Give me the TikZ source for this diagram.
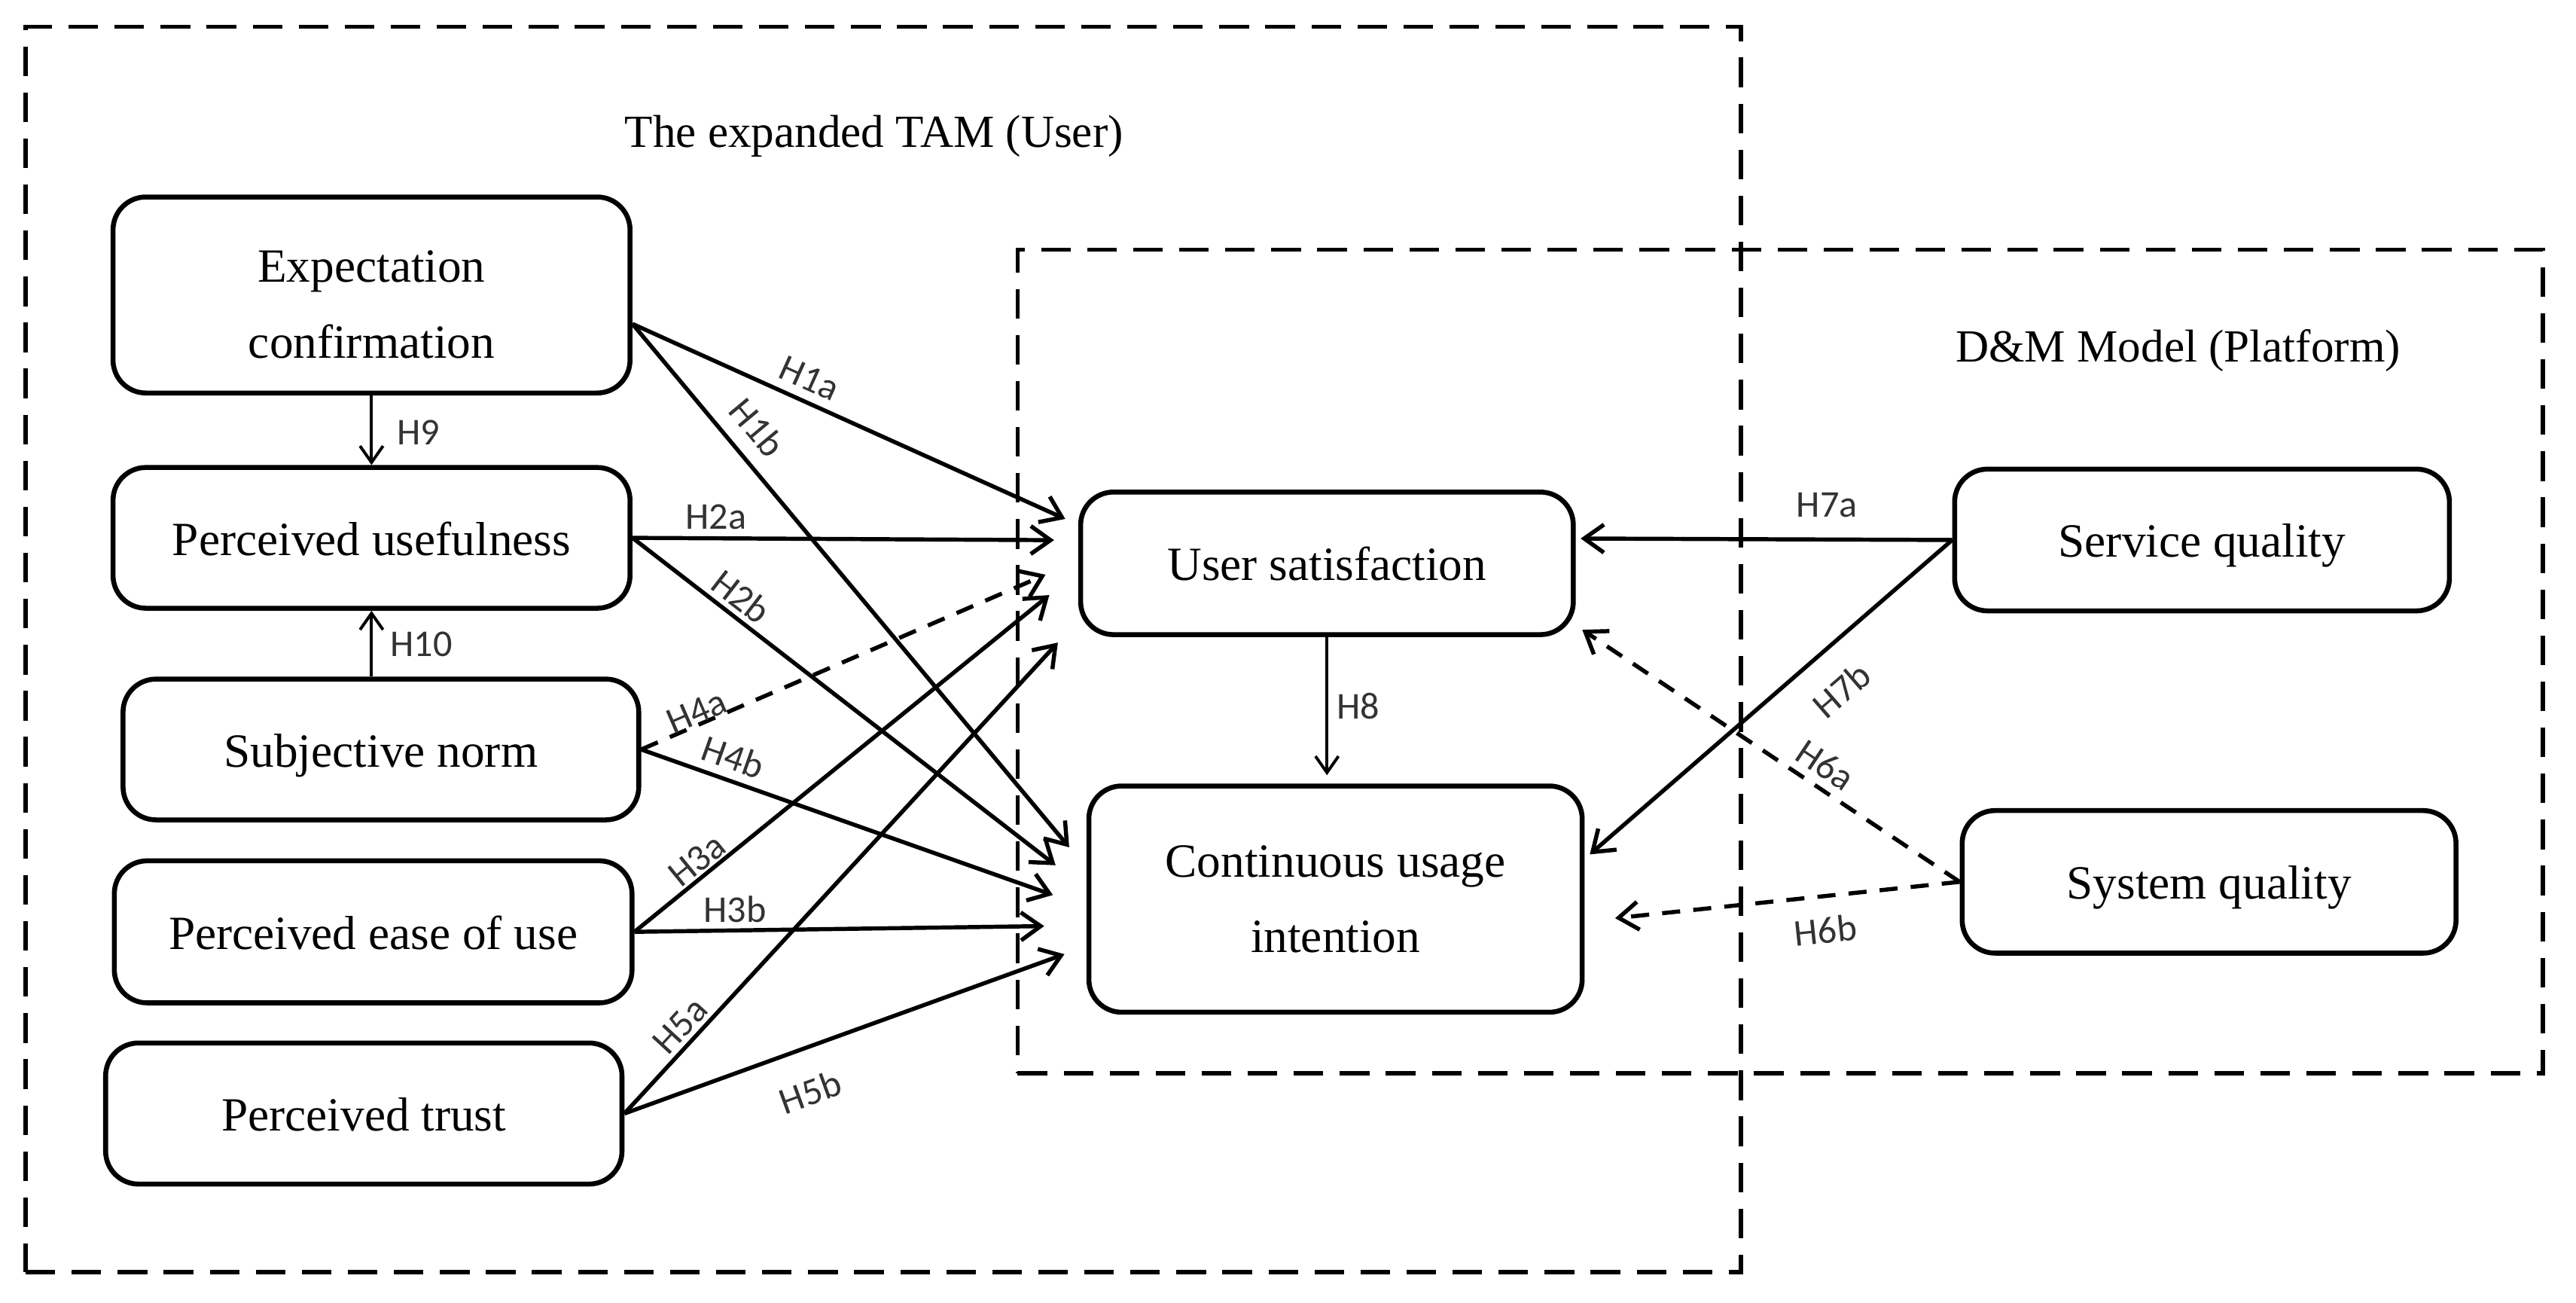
\documentclass[tikz,border=0pt]{standalone}
\usepackage{fontspec}
\setmainfont{Liberation Serif}
\newfontfamily\lblfont{Carlito}
\usetikzlibrary{arrows.meta,calc}
\definecolor{lblgray}{HTML}{333333}
\begin{document}
\begin{tikzpicture}[x=1pt,y=-1pt,
  box/.style={draw, line width=3pt, rounded corners=20pt, align=center,
    font=\fontsize{29}{46}\selectfont, inner sep=0pt},
  one/.style={text height=21pt, text depth=0pt},
  grp/.style={draw, line width=2.4pt, dash pattern=on 18pt off 10pt, inner sep=0pt},
  conn/.style={line width=2.5pt, -{Straight Barb[length=12pt,width=17pt]}},
  thinconn/.style={line width=1.8pt, -{Straight Barb[length=10pt,width=14pt]}},
  dconn/.style={conn, dash pattern=on 11pt off 8pt},
  lbl/.style={font=\lblfont\fontsize{23}{23}\selectfont, text=lblgray, inner sep=0pt},
  ttl/.style={font=\fontsize{28}{30}\selectfont, anchor=base}
]
\useasboundingbox (0,0) rectangle (1567,792.4);

% group frames
\node[grp, minimum width=1043.4pt, minimum height=757.3pt] (tam) at (537.3,394.95) {};
\node[grp, minimum width=927.8pt, minimum height=500.7pt] (dm) at (1082.9,402.35) {};
\node[ttl] (tamt) at (531.7,89.5) {The expanded TAM (User)};
\node[ttl] (dmt) at (1325,220) {D\&M Model (Platform)};

% constructs
\node[box, minimum width=314.5pt, minimum height=119.2pt] (ec) at (226,179.4) {\rule{0pt}{31pt}Expectation\\confirmation};
\node[box, one, minimum width=314.5pt, minimum height=85.6pt] (pu) at (226,327.1) {Perceived usefulness};
\node[box, one, minimum width=313.7pt, minimum height=85.6pt] (sn) at (231.7,455.8) {Subjective norm};
\node[box, one, minimum width=314.9pt, minimum height=86.4pt] (pe) at (227,566.7) {Perceived ease of use};
\node[box, one, minimum width=314.1pt, minimum height=85.8pt] (pt) at (221.3,677.2) {Perceived trust};
\node[box, one, minimum width=299.7pt, minimum height=86.7pt] (us) at (807.2,342.6) {User satisfaction};
\node[box, minimum width=300.1pt, minimum height=137.6pt] (cu) at (812.4,546.8) {Continuous usage\\intention};
\node[box, one, minimum width=301pt, minimum height=86.2pt] (sq) at (1339.5,328.4) {Service quality};
\node[box, one, minimum width=300.4pt, minimum height=86.7pt] (sy) at (1343.8,536.3) {System quality};

% arrow end points
\coordinate (ecs) at ($(ec.east)+(0,17.6)$);
\coordinate (t1a) at ($(us.west)+(-7.85,-27)$);
\coordinate (t2a) at ($(us.west)+(-14.65,-14.1)$);
\coordinate (t4a) at ($(us.west)+(-19.85,6.9)$);
\coordinate (t3a) at ($(us.west)+(-17.55,19.3)$);
\coordinate (t5a) at ($(us.west)+(-12.35,48.2)$);
\coordinate (t1b) at ($(cu.west)+(-10.45,-31.5)$);
\coordinate (t2b) at ($(cu.west)+(-18.75,-20.6)$);
\coordinate (t4b) at ($(cu.west)+(-20.35,-2.5)$);
\coordinate (t3b) at ($(cu.west)+(-25.65,16.4)$);
\coordinate (t5b) at ($(cu.west)+(-13.35,33.5)$);
\coordinate (t7a) at ($(us.east)+(2.95,-15.1)$);
\coordinate (t7b) at ($(cu.east)+(3.15,-27.2)$);
\coordinate (t6a) at ($(us.east)+(3.95,40.4)$);
\coordinate (t6b) at ($(cu.east)+(18.55,11.6)$);
\coordinate (t8) at ($(us.south)+(0,84)$);
\coordinate (s10) at (pu.south |- sn.north);

% connectors
\draw[conn] (ecs) -- (t1a) node[lbl, sloped, pos=0.387, above=5.2pt] (l1a) {H1a};
\draw[conn] (ecs) -- (t1b) node[lbl, sloped, pos=0.234, above=8.7pt] (l1b) {H1b};
\draw[conn] (pu.east) -- (t2a) node[lbl, pos=0.198, above=4.3pt] (l2a) {H2a};
\draw[conn] (pu.east) -- (t2b) node[lbl, sloped, pos=0.228, above=3pt] (l2b) {H2b};
\draw[dconn] (sn.east) -- (t4a) node[lbl, sloped, pos=0.15, above=-1.2pt] (l4a) {H4a};
\draw[conn] (sn.east) -- (t4b) node[lbl, sloped, pos=0.204, above=5.1pt] (l4b) {H4b};
\draw[conn] (pe.east) -- (t3a) node[lbl, sloped, pos=0.175, above=1.2pt] (l3a) {H3a};
\draw[conn] (pe.east) -- (t3b) node[lbl, pos=0.245, above=3.6pt] (l3b) {H3b};
\draw[conn] (pt.east) -- (t5a) node[lbl, sloped, pos=0.16, above=2.5pt] (l5a) {H5a};
\draw[conn] (pt.east) -- (t5b) node[lbl, sloped, pos=0.389, below=16.8pt] (l5b) {H5b};
\draw[thinconn] (us.south) -- (t8) node[lbl, pos=0.5, right=5pt] (l8) {H8};
\draw[thinconn] (ec.south) -- (pu.north) node[lbl, pos=0.53, right=14.5pt] (l9) {H9};
\draw[thinconn] (s10) -- (pu.south) node[lbl, pos=0.49, right=10.5pt] (l10) {H10};
\draw[conn] (sq.west) -- (t7a) node[lbl, pos=0.337, above=12.4pt] (l7a) {H7a};
\draw[conn] (sq.west) -- (t7b) node[lbl, sloped, pos=0.379, below=15.5pt] (l7b) {H7b};
\draw[dconn] (sy.west) -- (t6a) node[lbl, sloped, pos=0.389, above=4.5pt] (l6a) {H6a};
\draw[dconn] (sy.west) -- (t6b) node[lbl, sloped, pos=0.4, below=11.5pt] (l6b) {H6b};
\end{tikzpicture}
\end{document}
